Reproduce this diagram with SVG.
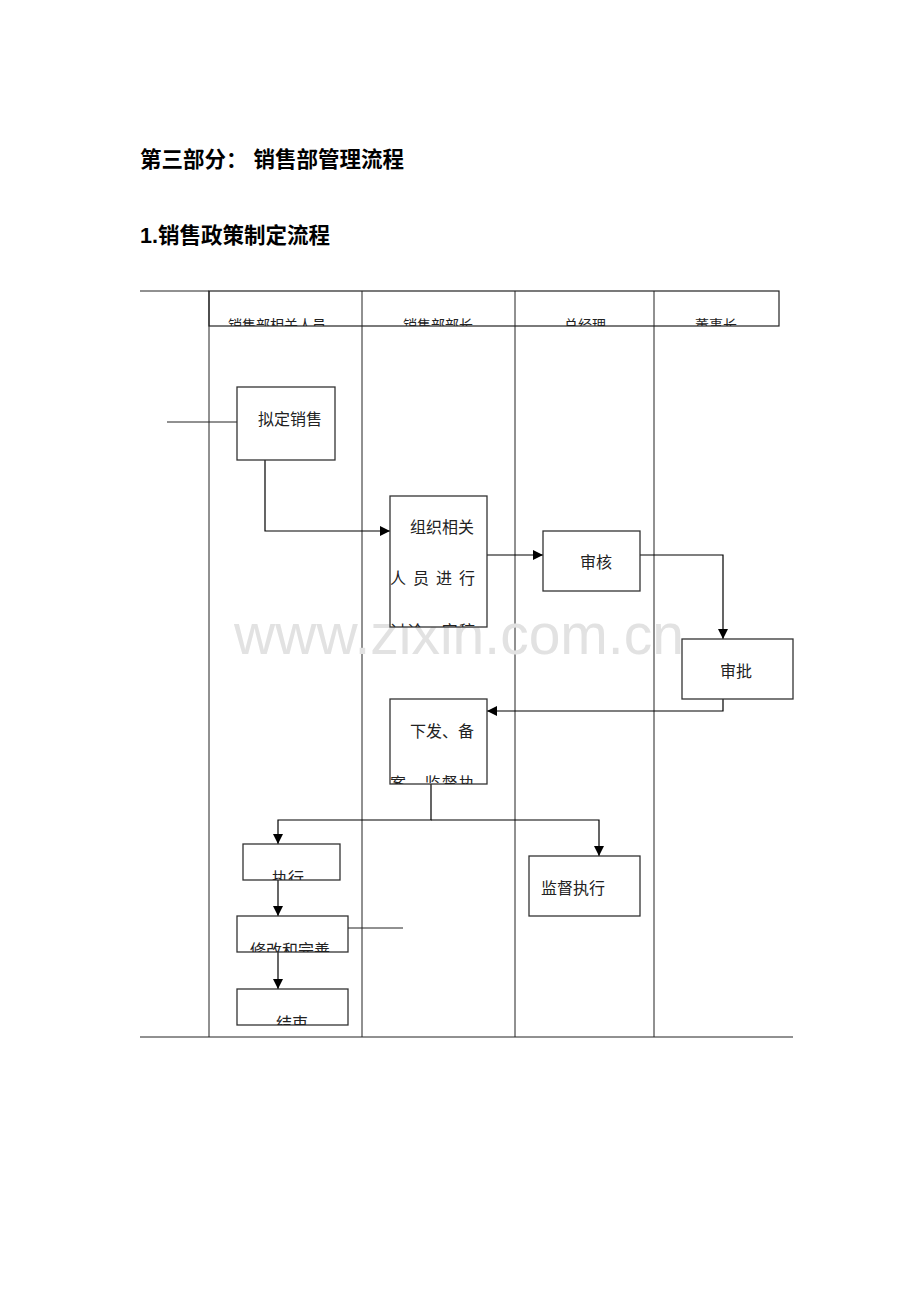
<svg xmlns="http://www.w3.org/2000/svg" width="920" height="1302" viewBox="0 0 920 1302">
<style>
.t{font-family:"Liberation Sans","Noto Sans CJK SC",sans-serif;fill:#222}
.h{font-size:21.5px;font-weight:bold;fill:#000}
.n{font-size:16px}
.hd{font-size:14px;text-anchor:middle}
.b{fill:#fff;stroke:#333;stroke-width:1.3}
.l{fill:none;stroke:#000;stroke-width:1.2}
.g{fill:none;stroke:#222;stroke-width:1}
</style>
<defs>
<marker id="a" viewBox="0 0 10 10" refX="10" refY="5" markerWidth="10" markerHeight="10" markerUnits="userSpaceOnUse" orient="auto"><path d="M0,0L10,5L0,10z" fill="#000"/></marker>
<clipPath id="ch"><rect x="209" y="291" width="570" height="35"/></clipPath>
<clipPath id="c2"><rect x="390" y="496" width="97" height="131"/></clipPath>
<clipPath id="c5"><rect x="390" y="699" width="97" height="85"/></clipPath>
<clipPath id="c6"><rect x="243" y="844" width="97" height="36"/></clipPath>
<clipPath id="c7"><rect x="237" y="916" width="111" height="36"/></clipPath>
<clipPath id="c8"><rect x="237" y="989" width="111" height="36"/></clipPath>
</defs>
<rect width="920" height="1302" fill="#fff"/>
<text class="t h" x="140" y="167">第三部分：   销售部管理流程</text>
<text class="t h" x="140" y="243">1.销售政策制定流程</text>
<g id="lanes">
<line class="g" x1="140" y1="291" x2="209" y2="291"/>
<rect x="209" y="291" width="570" height="35" fill="none" stroke="#222" stroke-width="1.2"/>
<line class="g" x1="362" y1="291" x2="362" y2="1037"/>
<line class="g" x1="515" y1="291" x2="515" y2="1037"/>
<line class="g" x1="654" y1="291" x2="654" y2="1037"/>
<line class="g" x1="209" y1="291" x2="209" y2="1037"/>
<line class="g" x1="140" y1="1037" x2="793" y2="1037"/>
<g clip-path="url(#ch)">
<text class="t hd" x="277" y="330">销售部相关人员</text>
<text class="t hd" x="438" y="330">销售部部长</text>
<text class="t hd" x="585" y="330">总经理</text>
<text class="t hd" x="716" y="330">董事长</text>
</g>
</g>
<text x="459" y="654" font-family="Liberation Sans,sans-serif" font-size="57" fill="#e2e2e2" text-anchor="middle">www.zixin.com.cn</text>
<g id="connectors">
<line class="g" x1="167" y1="422" x2="237" y2="422"/>
<path class="l" d="M265,460V531H390" marker-end="url(#a)"/>
<path class="l" d="M487,555H543" marker-end="url(#a)"/>
<path class="l" d="M640,555H723V639" marker-end="url(#a)"/>
<path class="l" d="M723,699V711H487" marker-end="url(#a)"/>
<path class="l" d="M431,784V820H278V844" marker-end="url(#a)"/>
<path class="l" d="M431,820H599V856" marker-end="url(#a)"/>
<path class="l" d="M278,880V916" marker-end="url(#a)"/>
<path class="l" d="M278,952V989" marker-end="url(#a)"/>
<line class="g" x1="348" y1="928" x2="403" y2="928"/>
</g>
<g id="n1"><rect class="b" x="237" y="387" width="98" height="73"/><text class="t n" x="258" y="425">拟定销售</text></g>
<g id="n2"><rect class="b" x="390" y="496" width="97" height="131"/>
<g clip-path="url(#c2)"><text class="t n" x="410" y="533">组织相关</text><text class="t n" x="390" y="584" textLength="85">人员进行</text><text class="t n" x="390" y="637" textLength="85">讨论、定稿</text></g></g>
<g id="n3"><rect class="b" x="543" y="531" width="97" height="60"/><text class="t n" x="580" y="568">审核</text></g>
<g id="n4"><rect class="b" x="682" y="639" width="111" height="60"/><text class="t n" x="720" y="677">审批</text></g>
<g id="n5"><rect class="b" x="390" y="699" width="97" height="85"/>
<g clip-path="url(#c5)"><text class="t n" x="390" y="737" dx="20">下发、备</text><text class="t n" x="390" y="789" textLength="85">案、监督执</text></g></g>
<g id="n6"><rect class="b" x="243" y="844" width="97" height="36"/><g clip-path="url(#c6)"><text class="t n" x="272" y="884">执行</text></g></g>
<g id="n7"><rect class="b" x="237" y="916" width="111" height="36"/><g clip-path="url(#c7)"><text class="t n" x="250" y="956">修改和完善</text></g></g>
<g id="n8"><rect class="b" x="237" y="989" width="111" height="36"/><g clip-path="url(#c8)"><text class="t n" x="276" y="1029">结束</text></g></g>
<g id="n9"><rect class="b" x="529" y="856" width="111" height="60"/><text class="t n" x="541" y="894">监督执行</text></g>
</svg>
